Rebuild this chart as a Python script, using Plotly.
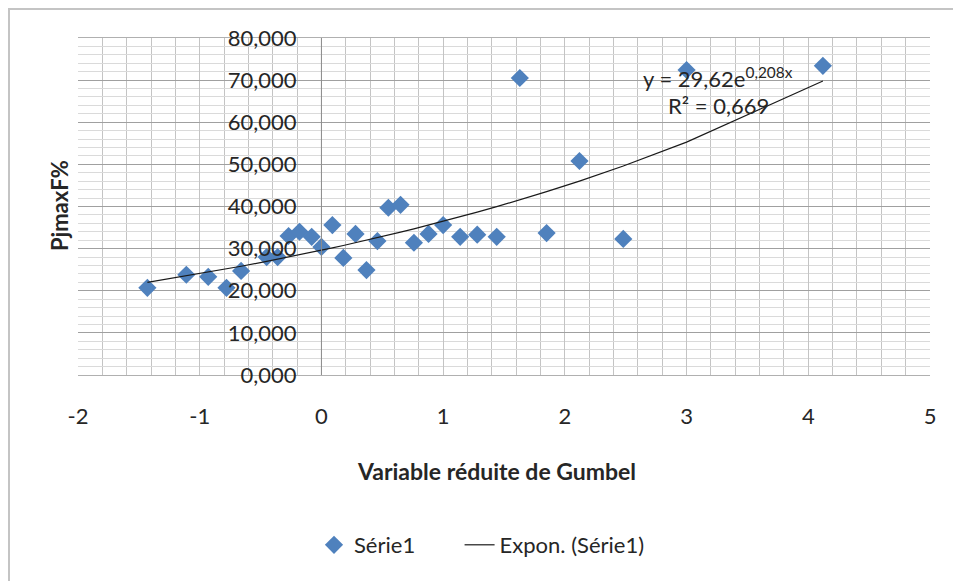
import numpy as np
import plotly.graph_objects as go

# Data
gumbel_x = [-1.43, -1.11, -0.93, -0.78, -0.66, -0.45, -0.36, -0.27, -0.18, -0.08,
            0.00, 0.09, 0.18, 0.28, 0.37, 0.46, 0.55, 0.65, 0.76, 0.88,
            1.00, 1.14, 1.28, 1.44, 1.63, 1.85, 2.12, 2.48, 3.00, 4.12]
pjmax = [20.7, 23.8, 23.3, 20.7, 24.7, 28.0, 28.0, 33.0, 34.0, 32.8,
         30.4, 35.6, 27.8, 33.5, 24.9, 31.8, 39.7, 40.4, 31.4, 33.5,
         35.6, 32.8, 33.3, 32.8, 70.5, 33.7, 50.8, 32.3, 72.4, 73.4]
trend_a = 29.62
trend_b = 0.208
x_ticks = [-2, -1, 0, 1, 2, 3, 4, 5]
y_ticks = [0, 10, 20, 30, 40, 50, 60, 70, 80]
y_tick_labels = ["0,000", "10,000", "20,000", "30,000", "40,000", "50,000", "60,000", "70,000", "80,000"]

XMIN, XMAX = -2, 5
YMIN, YMAX = 0, 80

# page has an 8px body margin; work in figure coordinates = page - 8
OFF = 8
W, H = 961 - OFF, 581 - OFF
L = 78 - OFF
T = 38 - OFF
R = W - (930 - OFF)
B = H - (375 - OFF)

FONT = "Lato"
BLUE = "#4F81BD"
NB = "\u00a0"

tx = np.sort(np.array(gumbel_x))
ty = trend_a * np.exp(trend_b * tx)

fig = go.Figure()
fig.add_trace(go.Scatter(
    x=gumbel_x, y=pjmax, mode="markers", name="Série1" + NB * 7,
    marker=dict(symbol="diamond", size=14, color=BLUE, line=dict(width=0)),
))
fig.add_trace(go.Scatter(
    x=tx, y=ty, mode="lines", name="Expon. (Série1)",
    line=dict(color="#1a1a1a", width=1.2),
))

pw = W - L - R
ph = H - T - B

def px_x(px):
    # page pixel -> paper fraction
    return (px - OFF - L) / pw

def px_y(py):
    return (H - B - (py - OFF)) / ph

yaxis_pos = (0 - XMIN) / (XMAX - XMIN)

fig.update_layout(
    width=W, height=H,
    margin=dict(l=L, r=R, t=T, b=B, pad=0),
    paper_bgcolor="white", plot_bgcolor="white",
    font=dict(family=FONT, size=22, color="#262626"),
    showlegend=True,
    legend=dict(
        orientation="h", x=px_x(314), xanchor="left",
        y=px_y(545), yanchor="middle",
        font=dict(size=22, family=FONT),
        bgcolor="rgba(0,0,0,0)",
    ),
    xaxis=dict(
        range=[XMIN, XMAX], tickvals=x_ticks, ticktext=[str(v) for v in x_ticks],
        showgrid=True, gridcolor="#C4C4C4", gridwidth=1,
        minor=dict(dtick=0.2, showgrid=True, gridcolor="#C4C4C4", gridwidth=1),
        zeroline=False, showline=True, linecolor="#B0B0B0", mirror=True,
        ticks="", ticklabelstandoff=22, tickfont=dict(size=22),
        fixedrange=True,
    ),
    yaxis=dict(
        range=[YMIN, YMAX], tickvals=y_ticks, ticktext=y_tick_labels,
        showgrid=True, gridcolor="#A0A0A0", gridwidth=1,
        minor=dict(dtick=2, showgrid=True, gridcolor="#DADADA", gridwidth=1),
        zeroline=False, showline=False,
        anchor="free", position=yaxis_pos,
        ticks="", ticklabelstandoff=25, tickfont=dict(size=22),
        fixedrange=True,
    ),
    shapes=[
        dict(type="line", xref="x", yref="y", x0=0, x1=0, y0=YMIN, y1=YMAX,
             line=dict(color="#8C8C8C", width=1)),
        dict(type="line", xref="paper", yref="paper",
             x0=px_x(8), x1=px_x(961), y0=px_y(8.5), y1=px_y(8.5),
             line=dict(color="#C4C4C4", width=3), layer="below"),
        dict(type="line", xref="paper", yref="paper",
             x0=px_x(8.5), x1=px_x(8.5), y0=px_y(8), y1=px_y(581),
             line=dict(color="#C4C4C4", width=3), layer="below"),
    ],
    annotations=[
        dict(text="<b>Variable réduite de Gumbel</b>", xref="paper", yref="paper",
             x=px_x(496), y=px_y(471), showarrow=False,
             xanchor="center", yanchor="middle", font=dict(size=23, family=FONT)),
        dict(text="<b>PjmaxF%</b>", xref="paper", yref="paper",
             x=px_x(59), y=px_y(206), showarrow=False, textangle=-90,
             xanchor="center", yanchor="middle", font=dict(size=22, family=FONT)),
        dict(text="y = 29,62e<sup>0,208x</sup>", xref="paper", yref="paper",
             x=px_x(718), y=px_y(77), showarrow=False,
             xanchor="center", yanchor="middle", font=dict(size=22, family=FONT)),
        dict(text="R² = 0,669", xref="paper", yref="paper",
             x=px_x(718), y=px_y(106), showarrow=False,
             xanchor="center", yanchor="middle", font=dict(size=22, family=FONT)),
    ],
)

fig.write_html("out.html")
